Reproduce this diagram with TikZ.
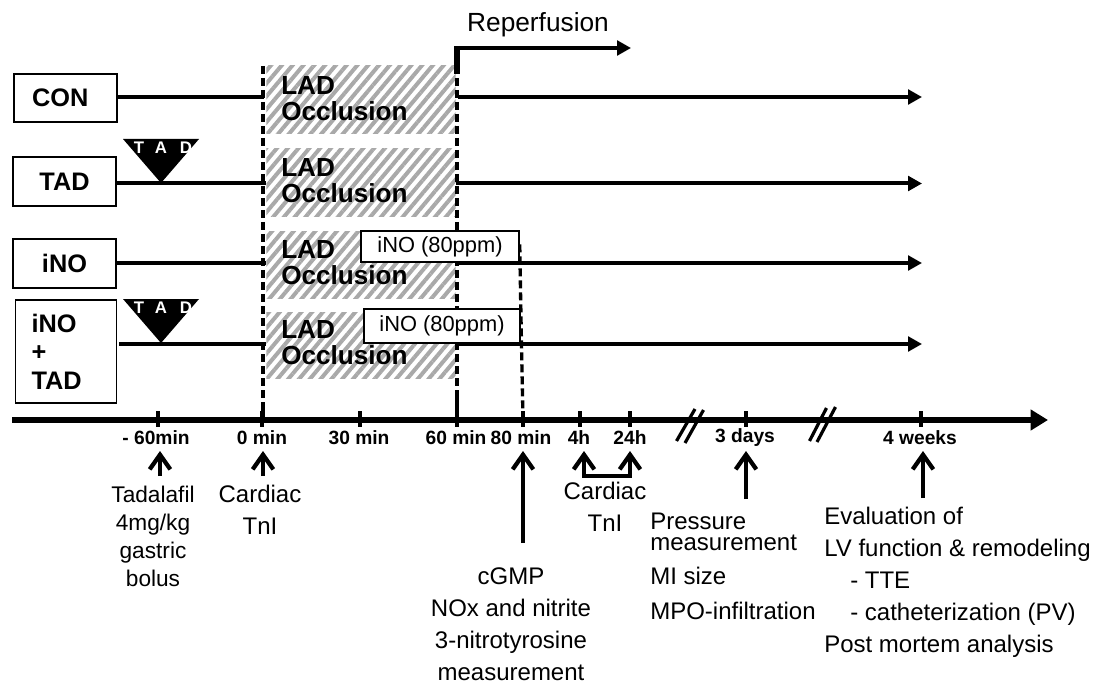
\documentclass[tikz,border=0pt]{standalone}
\usepackage{fontspec}
\setmainfont{Liberation Sans}
\usetikzlibrary{arrows.meta,positioning,patterns.meta}
\definecolor{occgrey}{HTML}{A9A9A9}
\tikzset{
  groupbox/.style={draw=black,line width=1.2pt,fill=white,font=\fontsize{19}{26}\selectfont\bfseries},
  occbox/.style={minimum width=142pt,minimum height=51pt,inner sep=0pt,pattern={Lines[angle=50,distance=6.2pt,line width=3pt]},pattern color=occgrey},
  occtext/.style={anchor=west,inner sep=0pt,align=left,font=\fontsize{19.6}{19.5}\selectfont\bfseries},
  inobox/.style={draw=black,line width=1.1pt,fill=white,inner sep=0pt,font=\fontsize{16.4}{20}\selectfont},
  rowline/.style={line width=3pt},
  rowarrow/.style={line width=3pt,-{Triangle[length=10.5pt,width=11pt]}},
  dashline/.style={line width=2.5pt,dash pattern=on 6pt off 3pt},
  tick/.style={line width=3pt},
  axislabel/.style={inner sep=0pt,font=\fontsize{14.4}{16}\selectfont\bfseries},
  bodytext/.style={inner sep=0pt,align=center,font=\fontsize{18}{24}\selectfont},
  uparrow/.style={line width=3.2pt,-{Straight Barb[length=11pt,width=15.5pt,line width=3.2pt]}},
  tadmark/.style={fill=black,draw=none},
  tadletter/.style={inner sep=0pt,text=white,font=\fontsize{12.6}{14}\selectfont\bfseries}
}
\begin{document}
\begin{tikzpicture}[x=0.75pt,y=-0.75pt]
  \useasboundingbox (0,0) rectangle (1099,684);
  % occlusion blocks
  \node[occbox] (occa) at (361,100) {};
  \node[occbox] (occb) at (361,183) {};
  \node[occbox,minimum height=49.5pt] (occc) at (361,265) {};
  \node[occbox,minimum height=49.5pt] (occd) at (361,345) {};
  \node[occtext] (occatxt) at (281,99) {LAD\\Occlusion};
  \node[occtext] (occbtxt) at (281,181) {LAD\\Occlusion};
  \node[occtext] (occctxt) at (281,263) {LAD\\Occlusion};
  \node[occtext] (occdtxt) at (281,343) {LAD\\Occlusion};
  % groups
  \node[groupbox,minimum width=77pt,minimum height=36pt] (con) at (65.5,98) {\hspace*{-8pt}CON};
  \node[groupbox,minimum width=77pt,minimum height=36.5pt] (tad) at (64.5,181.5) {TAD};
  \node[groupbox,minimum width=77pt,minimum height=36.5pt] (ino) at (64.5,263.5) {iNO};
  \node[groupbox,minimum width=76pt,minimum height=77pt,align=left,font=\fontsize{19}{21.4}\selectfont\bfseries] (inotad) at (66,351.5) {\hspace*{-14pt}iNO\\\hspace*{-14pt}+\\\hspace*{-14pt}TAD};
  \coordinate (rowa) at (118,97);
  \coordinate (rowb) at (117,183.5);
  \coordinate (rowc) at (117,263);
  \coordinate (rowd) at (119,344);
  \coordinate (rowend) at (922,97);
  \foreach \rw/\oc in {rowa/occa,rowb/occb,rowc/occc,rowd/occd}{
    \draw[rowline] (\rw) -- (\rw -| \oc.west);
    \draw[rowarrow] (\rw -| \oc.east) -- (\rw -| rowend);
  }
  % time axis
  \coordinate (axstart) at (12,420);
  \coordinate (axend) at (1048,420);
  \draw[line width=5pt,-{Triangle[length=13pt,width=15pt]}] (axstart) -- (axend);
  \foreach \tx in {158,262,360,457,523,580,630,746,921}{
    \draw[tick] (\tx,411) -- (\tx,427);
  }
  \draw[line width=2.4pt] (676.5,441) -- (695,409) (685,443) -- (703.5,410);
  \draw[line width=2.4pt] (809.5,441) -- (826.5,408) (817,442) -- (835.5,407);
  % dashed limits
  \coordinate (ocstart) at (263,66);
  \coordinate (ocstop) at (457,66);
  \coordinate (ocstartb) at (263,403);
  \coordinate (ocstopb) at (457,397);
  \draw[dashline] (ocstart) -- (ocstartb);
  \draw[dashline] (ocstop) -- (ocstopb);
  \draw[line width=3pt] (ocstartb) -- (263,420);
  \draw[line width=3pt] (ocstopb) -- (457,420);
  % reperfusion
  \node[inner sep=0pt,font=\fontsize{19.7}{24}\selectfont] (repf) at (538,25) {Reperfusion};
  \coordinate (repstart) at (457,48);
  \coordinate (repend) at (631,48);
  \draw[rowarrow] (repstart) -- (repend);
  \draw[line width=3.8pt] (457,46) -- (457,74);
  % inhaled NO
  \node[inobox,minimum width=118.5pt,minimum height=23pt] (inoa) at (440,246.5) {iNO (80ppm)};
  \node[inobox,minimum width=117pt,minimum height=25.5pt] (inob) at (442,326) {iNO (80ppm)};
  \coordinate (inoend) at (523,420);
  \draw[dashline] (inoa.north east) ++(0,14) .. controls (521,320) .. (inoend);
  % TAD markers
  \fill[tadmark] (123,139) -- (199,139) -- (161,183) -- cycle;
  \fill[tadmark] (123,299) -- (199,299) -- (161,343) -- cycle;
  \foreach \ty/\tn in {148/a,308/b}{
    \node[tadletter] (tadt\tn) at (139,\ty) {T};
    \node[tadletter] (tada\tn) at (161,\ty) {A};
    \node[tadletter] (tadd\tn) at (186,\ty) {D};
  }
  % axis labels
  \node[axislabel] (lbm) at (156,438) {- 60min};
  \node[axislabel] (lbz) at (262,438) {0 min};
  \node[axislabel] (lbt) at (359,438) {30 min};
  \node[axislabel] (lbs) at (456,438) {60 min};
  \node[axislabel] (lbe) at (521,438) {80 min};
  \node[axislabel] (lbf) at (579,438) {4h};
  \node[axislabel] (lbh) at (630,438) {24h};
  \node[axislabel] (lbd) at (745,438) {3 days};
  \node[axislabel] (lbw) at (920,438) {4 weeks};
  % sampling arrows
  \foreach \nm/\ax/\ay/\ty in {m/160/476/451,z/263/476/451,e/523/543/451,d/746/499/451,w/923/498/451,f/584/477/451,h/630/477/451}{
    \coordinate (up\nm) at (\ax,\ay);
    \coordinate (tip\nm) at (\ax,\ty);
    \draw[uparrow] (up\nm) -- (tip\nm);
  }
  \draw[line width=3pt] (upf) ++(-2,-1.5) -- ([shift={(2,-1.5)}]uph);
  % read-outs
  \node[bodytext,font=\fontsize{17}{21}\selectfont] (tadtxt) at (153,536) {Tadalafil\\4mg/kg\\gastric\\bolus};
  \node[bodytext] (tnia) at (260,510) {Cardiac\\TnI};
  \node[bodytext] (cgmp) at (511,624) {cGMP\\NOx and nitrite\\3-nitrotyrosine\\measurement};
  \node[bodytext] (tnib) at (605,506.5) {Cardiac\\TnI};
  \node[bodytext,align=left,anchor=north west] (press) at (650,513) {Pressure\\[-8.25pt]measurement\\[1.5pt]MI size\\[2pt]MPO-infiltration};
  \node[bodytext,align=left,anchor=north west] (evalu) at (824,507) {Evaluation of\\LV function \& remodeling\\\hspace*{19.5pt}- TTE\\\hspace*{19.5pt}- catheterization (PV)\\Post mortem analysis};
\end{tikzpicture}
\end{document}
